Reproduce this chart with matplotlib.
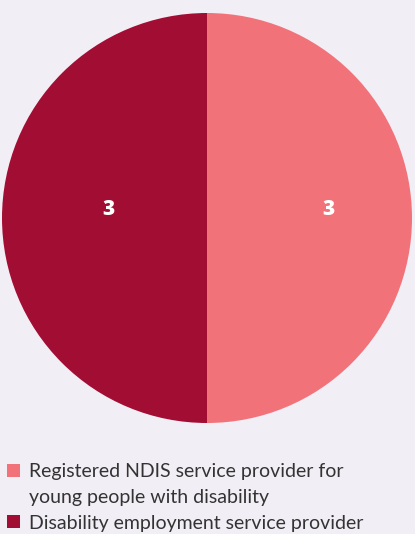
import matplotlib.pyplot as plt
from matplotlib.patches import Patch

# datos
categorias = ["Registered NDIS service provider for\nyoung people with disability",
              "Disability employment service provider"]
valores = [3, 3]
colores = ["#f27279", "#a20d33"]
fondo = "#f2eef5"

plt.rcParams['font.family'] = ['Lato', 'DejaVu Sans']

fig = plt.figure(figsize=(4.15, 5.34), dpi=100, facecolor=fondo)
ax = fig.add_axes([2/415, 1 - 423/534, 410/415, 410/534])
ax.set_facecolor(fondo)

wedges, textos = ax.pie(valores, colors=colores, startangle=90, counterclock=False,
                        labels=[str(v) for v in valores], labeldistance=0.5,
                        wedgeprops=dict(linewidth=0))
for t in textos:
    t.set_color('white')
    t.set_fontsize(15)
    t.set_fontweight('heavy')
    t.set_family(['Open Sans', 'DejaVu Sans'])
    t.set_ha('center')
    t.set_va('center')
# etiquetas algo desplazadas como en el original
textos[0].set_position((0.59, 0.04))
textos[1].set_position((-0.48, 0.04))
ax.set_xlim(-1, 1)
ax.set_ylim(-1, 1)
ax.set_aspect('equal')

# leyenda: el cuadrado va alineado con la primera linea del texto
handles, etiquetas = [], []
for c, cat in zip(colores, categorias):
    lineas = cat.split('\n')
    handles.append(Patch(facecolor=c, edgecolor='none'))
    etiquetas.append(lineas[0])
    for extra in lineas[1:]:
        handles.append(Patch(facecolor='none', edgecolor='none'))
        etiquetas.append(extra)

leg = fig.legend(handles, etiquetas, loc='upper left', bbox_to_anchor=(7/415, 1 - 463/534),
                 frameon=False, fontsize=14, labelcolor='#333333',
                 handlelength=0.68, handleheight=0.68, handletextpad=0.45,
                 labelspacing=0.45, borderaxespad=0, borderpad=0)

plt.savefig('out.png', dpi=100, facecolor=fondo)
